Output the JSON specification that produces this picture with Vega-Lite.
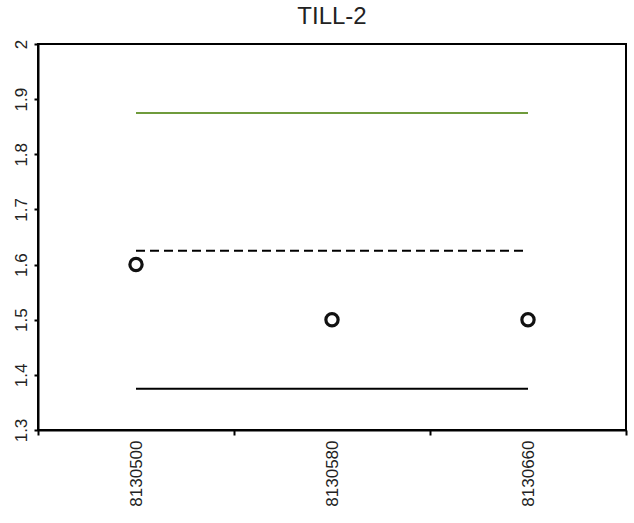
{
  "$schema": "https://vega.github.io/schema/vega-lite/v6.json",
  "width": 588,
  "height": 386,
  "padding": {"left": 12, "top": 5, "right": 6, "bottom": 5},
  "background": "white",
  "title": {"text": "TILL-2", "font": "Liberation Sans", "fontSize": 24, "fontWeight": "normal", "color": "#222222", "offset": 10},
  "data": {"values": [
    {"station": "8130500", "value": 1.6, "lower": 1.375, "mean": 1.625, "upper": 1.875},
    {"station": "8130580", "value": 1.5, "lower": 1.375, "mean": 1.625, "upper": 1.875},
    {"station": "8130660", "value": 1.5, "lower": 1.375, "mean": 1.625, "upper": 1.875}
  ]},
  "encoding": {
    "x": {
      "field": "station", "type": "ordinal", "title": null,
      "scale": {"paddingInner": 0, "paddingOuter": 0},
      "axis": {"labelAngle": -90, "labelFont": "Liberation Sans", "labelFontSize": 17, "labelColor": "#222222", "tickBand": "extent", "tickSize": 5, "tickColor": "black", "tickWidth": 2, "domainColor": "black", "domainWidth": 2, "labelPadding": 5, "grid": false}
    }
  },
  "layer": [
    {
      "mark": {"type": "line", "color": "#6f9b3c", "strokeWidth": 2},
      "encoding": {"y": {"field": "upper", "type": "quantitative", "scale": {"domain": [1.3, 2], "nice": false, "zero": false},
        "title": null,
        "axis": {"values": [1.3, 1.4, 1.5, 1.6, 1.7, 1.8, 1.9, 2], "format": ".1~f", "labelAngle": -90, "labelFont": "Liberation Sans", "labelFontSize": 17, "labelColor": "#222222", "tickSize": 4, "tickColor": "black", "tickWidth": 2, "domainColor": "black", "domainWidth": 2, "grid": false, "labelPadding": 4}}}
    },
    {
      "mark": {"type": "line", "color": "black", "strokeWidth": 2, "strokeDash": [9, 5]},
      "encoding": {"y": {"field": "mean", "type": "quantitative"}}
    },
    {
      "mark": {"type": "line", "color": "black", "strokeWidth": 2},
      "encoding": {"y": {"field": "lower", "type": "quantitative"}}
    },
    {
      "mark": {"type": "point", "shape": "circle", "filled": false, "color": "#111111", "strokeWidth": 3.2, "size": 150, "opacity": 1},
      "encoding": {"y": {"field": "value", "type": "quantitative"}}
    }
  ],
  "config": {"view": {"stroke": "black", "strokeWidth": 2}}
}
